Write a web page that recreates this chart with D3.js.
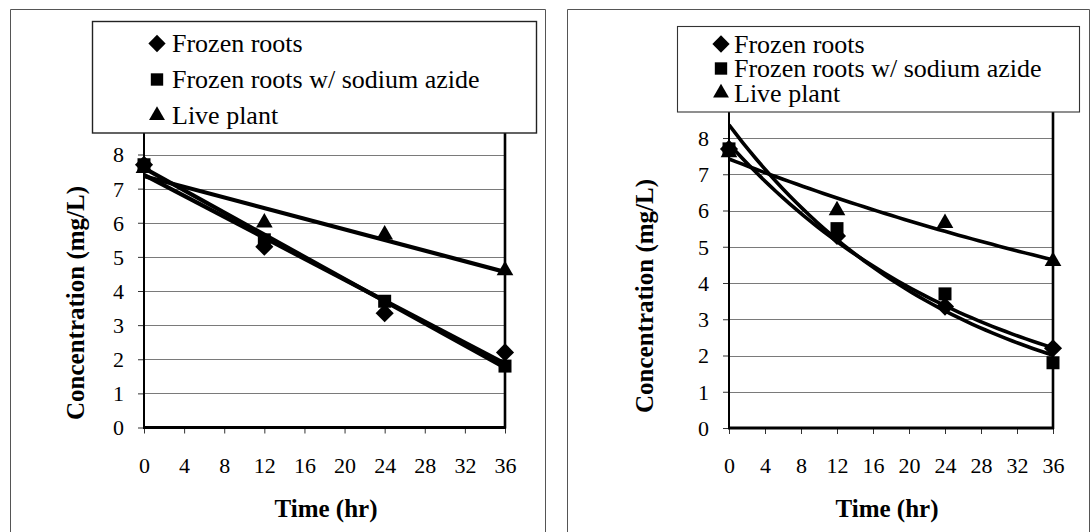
<!DOCTYPE html>
<html>
<head>
<meta charset="utf-8">
<script src="https://cdn.jsdelivr.net/npm/d3@7/dist/d3.min.js"></script>
</head>
<body style="margin:0;background:#fff">
<svg id="chart" width="1091" height="532" style="display:block;font-family:'Liberation Serif'"></svg>
<script>
// ---- Data ----
const times = [0, 12, 24, 36];
const frozenRoots = [7.7, 5.3, 3.35, 2.2];
const frozenRootsAzide = [7.7, 5.5, 3.7, 1.8];
const livePlant = [7.6, 6.0, 5.65, 4.6];
const seriesNames = ["Frozen roots", "Frozen roots w/ sodium azide", "Live plant"];
const seriesSymbols = ["diamond", "square", "triangle"];
const xTickValues = [0, 4, 8, 12, 16, 20, 24, 28, 32, 36];
const yTickValues = [0, 1, 2, 3, 4, 5, 6, 7, 8];
const xTitle = "Time (hr)";
const yTitle = "Concentration (mg/L)";
const trendTypes = ["linear", "exponential"]; // left panel, right panel

const seriesValues = [frozenRoots, frozenRootsAzide, livePlant];

function serif(sel, size, bold) {
  sel.style("font-family", '"Liberation Serif"').style("font-size", size + "px").attr("fill", "#000");
  if (bold) sel.style("font-weight", "bold");
  return sel;
}

// ---- Trendline fits (least squares, as the spreadsheet does) ----
function linearFit(xs, ys) {
  const mx = d3.mean(xs), my = d3.mean(ys);
  let sxy = 0, sxx = 0;
  xs.forEach((x, i) => { sxy += (x - mx) * (ys[i] - my); sxx += (x - mx) * (x - mx); });
  const b = sxy / sxx, a = my - b * mx;
  return x => a + b * x;
}
function expFit(xs, ys) {
  const lf = linearFit(xs, ys.map(Math.log));
  return x => Math.exp(lf(x));
}

// ---- Layout ----
const panels = [
  { frame: {x: 10.5, y: 9.5, x2: 545.5, y2: 545},
    legend: {x: 92.5, y: 21.5, w: 444, h: 111.5, rows: [43.5, 79.5, 115.5], mx: 157, tx: 172, stroke: "#222", sw: 1.4},
    plot: {x0: 144, x1: 505, y0: 427.5, y8: 154.5},
    lineW: 4.2, tickLabelY: 472.5, xTitleX: 326, xTitleY: 517, yTitleX: 75, yTitleY: 303 },
  { frame: {x: 567.5, y: 9.5, x2: 1089.5, y2: 545},
    legend: {x: 677.5, y: 26.5, w: 402, h: 85.5, rows: [44, 68.5, 93], mx: 721, tx: 734, stroke: "#333", sw: 1.1},
    plot: {x0: 729, x1: 1053, y0: 428, y8: 138},
    lineW: 3.6, tickLabelY: 473, xTitleX: 887, xTitleY: 517, yTitleX: 644, yTitleY: 296 }
];

const svg = d3.select("#chart");

function symbolPath(kind, size) {
  const t = kind === "diamond" ? d3.symbolDiamond2 : kind === "square" ? d3.symbolSquare2 : d3.symbolTriangle2;
  return d3.symbol().type(t).size(size)();
}
const markerSize = {diamond: 210, square: 215, triangle: 200};

panels.forEach((p, pi) => {
  const g = svg.append("g");
  // frame
  g.append("path")
    .attr("d", `M${p.frame.x},${p.frame.y2} V${p.frame.y} H${p.frame.x2} V${p.frame.y2}`)
    .attr("fill", "none").attr("stroke", "#555").attr("stroke-width", 1);

  const x = d3.scaleLinear().domain([0, 36]).range([p.plot.x0, p.plot.x1]);
  const y = d3.scaleLinear().domain([0, 8]).range([p.plot.y0, p.plot.y8]);
  const yTop = y(9);

  // gridlines
  g.append("g").selectAll("line").data(yTickValues.filter(v => v > 0)).join("line")
    .attr("x1", x(0)).attr("x2", x(36))
    .attr("y1", d => Math.round(y(d)) + 0.5).attr("y2", d => Math.round(y(d)) + 0.5)
    .attr("stroke", "#7a7a7a").attr("stroke-width", 1);

  // trendlines
  const fitFn = trendTypes[pi] === "linear" ? linearFit : expFit;
  const samples = trendTypes[pi] === "linear" ? [0, 36] : d3.range(0, 36.001, 0.75);
  const clipId = "clip" + pi;
  g.append("clipPath").attr("id", clipId).append("rect")
    .attr("x", x(0)).attr("y", yTop).attr("width", x(36) - x(0)).attr("height", y(0) - yTop);
  const lineGen = d3.line().x(d => x(d[0])).y(d => y(d[1]));
  seriesValues.forEach(vals => {
    const f = fitFn(times, vals);
    g.append("path")
      .attr("clip-path", `url(#${clipId})`)
      .attr("d", lineGen(samples.map(t => [t, f(t)])))
      .attr("fill", "none").attr("stroke", "#000")
      .attr("stroke-width", p.lineW).attr("stroke-linejoin", "round");
  });

  // axes
  const xAxis = d3.axisBottom(x).tickValues(xTickValues).tickSize(6).tickPadding(10).tickFormat(d3.format("d"));
  const xg = g.append("g").attr("transform", `translate(0,${y(0)})`).call(xAxis);
  xg.attr("font-family", null).attr("font-size", null);
  xg.select(".domain").remove();
  xg.selectAll(".tick line").attr("stroke", "#333").attr("stroke-width", 1);
  serif(xg.selectAll(".tick text"), 22).attr("dy", null).attr("y", p.tickLabelY - y(0));

  const yAxis = d3.axisLeft(y).tickValues(yTickValues).tickSize(6).tickPadding(14).tickFormat(d3.format("d"));
  const yg = g.append("g").attr("transform", `translate(${x(0)},0)`).call(yAxis);
  yg.attr("font-family", null).attr("font-size", null);
  yg.select(".domain").remove();
  yg.selectAll(".tick line").attr("stroke", "#333").attr("stroke-width", 1);
  serif(yg.selectAll(".tick text"), 22).attr("dy", "0.34em");

  // axis lines (left axis, bottom axis, right border at 36)
  g.append("line").attr("x1", x(0)).attr("x2", x(0)).attr("y1", yTop).attr("y2", y(0))
    .attr("stroke", "#000").attr("stroke-width", 2);
  g.append("line").attr("x1", x(36)).attr("x2", x(36)).attr("y1", yTop).attr("y2", y(0) + 1)
    .attr("stroke", "#000").attr("stroke-width", 2.6);
  g.append("line").attr("x1", x(0) - 1).attr("x2", x(36) + 1).attr("y1", y(0)).attr("y2", y(0))
    .attr("stroke", "#000").attr("stroke-width", 2.8);

  // markers
  seriesValues.forEach((vals, si) => {
    g.append("g").selectAll("path").data(times.map((t, i) => [t, vals[i]])).join("path")
      .attr("transform", d => `translate(${x(d[0])},${y(d[1])})`)
      .attr("d", symbolPath(seriesSymbols[si], markerSize[seriesSymbols[si]]))
      .attr("fill", "#000");
  });

  // axis titles
  serif(g.append("text"), 25, true).attr("x", p.xTitleX).attr("y", p.xTitleY)
    .attr("text-anchor", "middle").text(xTitle);
  serif(g.append("text"), 25, true).attr("transform", `translate(${p.yTitleX + 8.5},${p.yTitleY}) rotate(-90)`)
    .attr("text-anchor", "middle").text(yTitle);

  // legend
  const L = p.legend;
  g.append("rect").attr("x", L.x).attr("y", L.y).attr("width", L.w).attr("height", L.h)
    .attr("fill", "#fff").attr("stroke", L.stroke).attr("stroke-width", L.sw);
  seriesNames.forEach((name, si) => {
    g.append("path").attr("transform", `translate(${L.mx},${L.rows[si]})`)
      .attr("d", symbolPath(seriesSymbols[si], markerSize[seriesSymbols[si]] - 20))
      .attr("fill", "#000");
    serif(g.append("text"), 26).attr("x", L.tx).attr("y", L.rows[si] + 8.5).text(name);
  });
});
</script>
</body>
</html>
